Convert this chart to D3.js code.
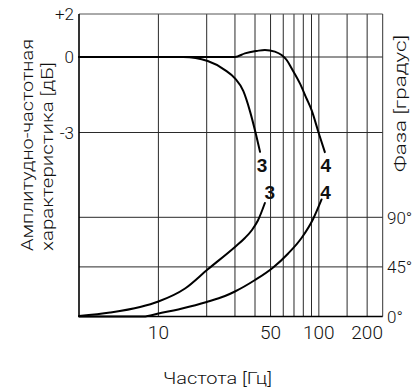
<!DOCTYPE html>
<html>
<head>
<meta charset="utf-8">
<script src="https://cdn.jsdelivr.net/npm/d3@7"></script>
<style>
  html, body { margin: 0; padding: 0; background: #fff; }
  svg { display: block; }
  text { font-family: Roboto, "Liberation Sans", sans-serif; font-weight: 300; fill: #111; }
</style>
</head>
<body>
<svg id="chart" width="413" height="390"></svg>
<script>
// Frequency axis: labelled ticks and vertical grid lines (Hz)
const freqTickValues = [10, 50, 100, 200];
const freqGridValues = [10, 20, 30, 40, 50, 60, 70, 80, 90, 100, 150, 200];

// Amplitude axis (dB, left) and phase axis (degrees, right)
const ampTickValues = [2, 0, -3];
const ampTickLabels = ["+2", "0", "-3"];
const phaseTickValues = [0, 45, 90];
const phaseTickLabels = ["0°", "45°", "90°"];

// Curve 3: amplitude response
const amp3Freq = [3.2, 14.3, 20.3, 26.0, 30.0, 33.8, 37.2, 40.4, 43.0];
const amp3Db   = [0, 0, -0.16, -0.52, -0.85, -1.35, -2.15, -3.03, -3.77];

// Curve 4: amplitude response
const amp4Freq = [3.2, 30.0, 34.6, 41.0, 46.1, 53.2, 58.6, 63.0, 67.6, 76.2, 83.8, 90.1, 100, 109];
const amp4Db   = [0, 0, 0.17, 0.28, 0.33, 0.25, 0.09, -0.12, -0.45, -1.05, -1.65, -2.11, -3.04, -3.78];

// Curve 3: phase response
const phase3Freq = [3.2, 5.0, 7.69, 10, 14.66, 20.24, 30.0, 34.6, 38.3, 41.7, 46.1];
const phase3Deg  = [0.45, 3.6, 8.6, 13.6, 25.4, 42.6, 63.1, 71.2, 78.5, 87.1, 103.0];

// Curve 4: phase response
const phase4Freq = [3.2, 8.07, 10, 14.05, 20.0, 26.0, 30.0, 40.0, 51.9, 64.4, 78.4, 92.1, 104];
const phase4Deg  = [0, 0, 2.7, 7.3, 13.2, 18.6, 22.7, 33.1, 44.5, 57.2, 71.7, 88.5, 106.2];

const svg = d3.select("#chart");

const plot = { left: 79, right: 382.7, top: 14, bottom: 316.5 };

const x = d3.scaleLog().domain([3.2, 250]).range([plot.left, plot.right]);
// amplitude scale is drawn with a different spacing above and below 0 dB
const yAmp = d3.scaleLinear().domain([-3, 0, 2]).range([132.5, 57, plot.top]);
const yPhase = d3.scaleLinear().domain([0, 90]).range([plot.bottom, 217.3]);

const grid = svg.append("g").attr("stroke", "#2a2a2a").attr("stroke-width", 1);

// vertical grid lines
grid.selectAll("line.v").data(freqGridValues).join("line")
  .attr("class", "v")
  .attr("x1", d => x(d)).attr("x2", d => x(d))
  .attr("y1", plot.top).attr("y2", plot.bottom);

// horizontal grid lines for amplitude and phase
grid.selectAll("line.ha").data([0, -3]).join("line")
  .attr("class", "ha")
  .attr("x1", plot.left).attr("x2", plot.right)
  .attr("y1", d => yAmp(d)).attr("y2", d => yAmp(d));
grid.selectAll("line.hp").data([45, 90]).join("line")
  .attr("class", "hp")
  .attr("x1", plot.left).attr("x2", plot.right)
  .attr("y1", d => yPhase(d)).attr("y2", d => yPhase(d));

// frame
svg.append("line").attr("x1", plot.left).attr("x2", plot.right)
  .attr("y1", plot.top).attr("y2", plot.top).attr("stroke", "#555").attr("stroke-width", 1);
svg.append("line").attr("x1", plot.right).attr("x2", plot.right)
  .attr("y1", plot.top).attr("y2", plot.bottom).attr("stroke", "#333").attr("stroke-width", 1);
svg.append("line").attr("x1", plot.left).attr("x2", plot.left)
  .attr("y1", plot.top).attr("y2", plot.bottom).attr("stroke", "#000").attr("stroke-width", 1.6);
svg.append("line").attr("x1", plot.left).attr("x2", plot.right)
  .attr("y1", plot.bottom).attr("y2", plot.bottom).attr("stroke", "#000").attr("stroke-width", 1.6);

// bottom frequency tick labels
svg.append("g").selectAll("text").data(freqTickValues).join("text")
  .attr("x", d => x(d)).attr("y", 339)
  .attr("text-anchor", "middle")
  .attr("font-size", 19)
  .text(d => d);

// left amplitude tick labels
svg.append("g").selectAll("text").data(ampTickValues).join("text")
  .attr("x", 74).attr("y", d => yAmp(d) + 6)
  .attr("text-anchor", "end")
  .attr("font-size", 17)
  .text((d, i) => ampTickLabels[i]);

// right phase tick labels
svg.append("g").selectAll("text").data(phaseTickValues).join("text")
  .attr("x", 387).attr("y", d => yPhase(d) + 6.5)
  .attr("text-anchor", "start")
  .attr("font-size", 17)
  .text((d, i) => phaseTickLabels[i]);

// curves
function drawCurve(freqs, vals, yScale) {
  const pts = freqs.map((f, i) => [x(f), yScale(vals[i])]);
  svg.append("path")
    .attr("d", d3.line().curve(d3.curveMonotoneX)(pts))
    .attr("fill", "none")
    .attr("stroke", "#000")
    .attr("stroke-width", 2)
    .attr("stroke-linecap", "round");
}
drawCurve(amp3Freq, amp3Db, yAmp);
drawCurve(amp4Freq, amp4Db, yAmp);
drawCurve(phase3Freq, phase3Deg, yPhase);
drawCurve(phase4Freq, phase4Deg, yPhase);

// curve number labels, placed at each curve's end point
const curveLabels = [
  { name: "3", f: amp3Freq[amp3Freq.length - 1], y: yAmp(amp3Db[amp3Db.length - 1]), dx: 2, dy: 20 },
  { name: "4", f: amp4Freq[amp4Freq.length - 1], y: yAmp(amp4Db[amp4Db.length - 1]), dx: 1, dy: 20 },
  { name: "3", f: phase3Freq[phase3Freq.length - 1], y: yPhase(phase3Deg[phase3Deg.length - 1]), dx: 5, dy: -4 },
  { name: "4", f: phase4Freq[phase4Freq.length - 1], y: yPhase(phase4Deg[phase4Deg.length - 1]), dx: 4, dy: 0 }
];
svg.append("g").selectAll("text").data(curveLabels).join("text")
  .attr("x", d => x(d.f) + d.dx).attr("y", d => d.y + d.dy)
  .attr("text-anchor", "middle")
  .attr("font-size", 19)
  .style("font-weight", "bold")
  .style("font-family", "'Liberation Sans', sans-serif")
  .text(d => d.name);

// axis titles
svg.append("text")
  .attr("transform", "translate(33,251) rotate(-90)")
  .attr("font-size", 16)
  .attr("textLength", 212).attr("lengthAdjust", "spacingAndGlyphs")
  .text("Амплитудно-частотная");
svg.append("text")
  .attr("transform", "translate(53,251) rotate(-90)")
  .attr("font-size", 16)
  .attr("textLength", 189).attr("lengthAdjust", "spacingAndGlyphs")
  .text("характеристика [дБ]");
svg.append("text")
  .attr("transform", "translate(406,172) rotate(-90)")
  .attr("font-size", 16)
  .attr("textLength", 137).attr("lengthAdjust", "spacingAndGlyphs")
  .text("Фаза [градус]");
svg.append("text")
  .attr("x", 163).attr("y", 384)
  .attr("font-size", 16)
  .attr("textLength", 109).attr("lengthAdjust", "spacingAndGlyphs")
  .text("Частота [Гц]");
</script>
</body>
</html>
